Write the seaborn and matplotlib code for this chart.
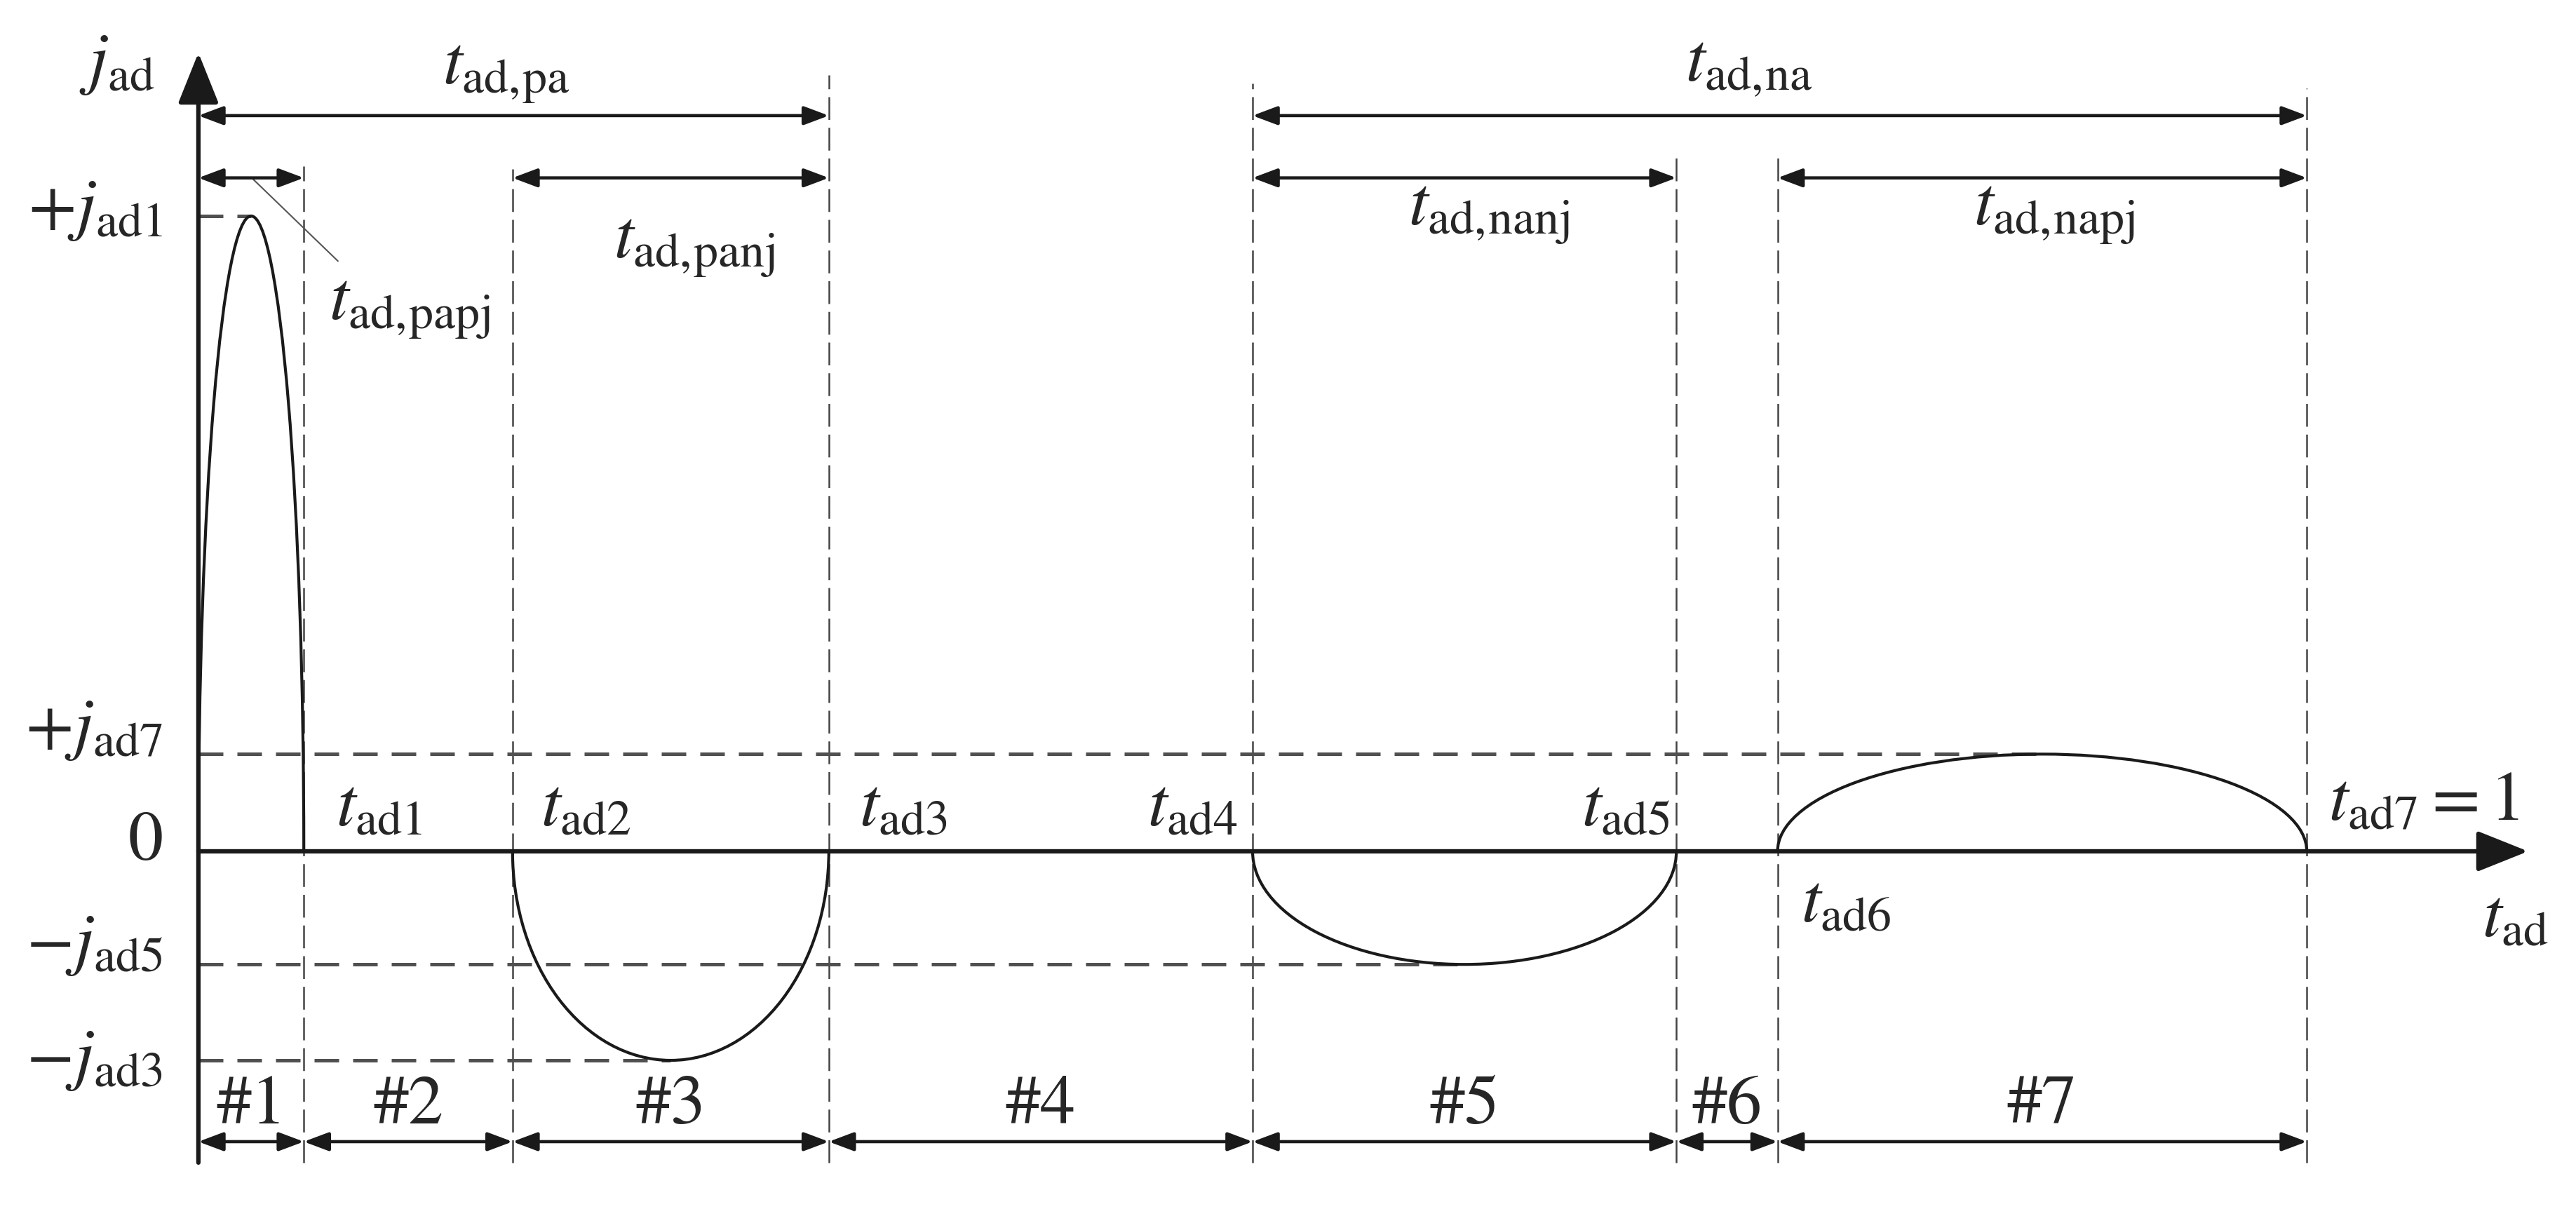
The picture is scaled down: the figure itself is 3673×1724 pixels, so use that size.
import matplotlib
matplotlib.use('Agg')
import matplotlib.pyplot as plt
from matplotlib.patches import Arc
import seaborn as sns
import pandas as pd

# phase boundaries t_ad0..t_ad7 (normalised, t_ad7 = 1)
t_bounds = [0.0, 0.050, 0.149, 0.299, 0.500, 0.701, 0.749, 1.0]
# peak value of j_ad in each phase (#1..#7), j_ad1 = 1
phase_peaks = [1.0, 0.0, -0.329, 0.0, -0.178, 0.0, 0.153]
phase_names = ['#1', '#2', '#3', '#4', '#5', '#6', '#7']
bound_labels = [r'$t_{\rm ad1}$', r'$t_{\rm ad2}$', r'$t_{\rm ad3}$', r'$t_{\rm ad4}$',
                r'$t_{\rm ad5}$', r'$t_{\rm ad6}$', r'$t_{\rm ad7}= 1$']
level_values = [1.0, 0.153, 0.0, -0.178, -0.329]
level_labels = [r'$+j_{\rm ad1}$', r'$+j_{\rm ad7}$', r'$0$', r'$-j_{\rm ad5}$', r'$-j_{\rm ad3}$']

sns.set_theme(style='white')
plt.rcParams['mathtext.fontset'] = 'stix'
plt.rcParams['font.family'] = ['STIXGeneral', 'DejaVu Serif']

fig = plt.figure(figsize=(3673 / 300, 1724 / 300), dpi=300)
ax = fig.add_axes([0, 0, 1, 1])
ax.set_xlim(-0.0941, 1.1277)
ax.set_ylim(-0.563, 1.340)
ax.axis('off')

FS = 24
ybot = -0.49

# axes with arrows
ax.annotate('', xy=(0, 1.257), xytext=(0, ybot),
            arrowprops=dict(arrowstyle='-|>,head_length=0.75,head_width=0.3', mutation_scale=20,
                            lw=1.5, color='k', shrinkA=0, shrinkB=0))
ax.annotate('', xy=(1.105, 0), xytext=(0, 0),
            arrowprops=dict(arrowstyle='-|>,head_length=0.75,head_width=0.3', mutation_scale=20,
                            lw=1.5, color='k', shrinkA=0, shrinkB=0))

# dashed vertical guides at the phase boundaries
v_tops = [1.078, 1.074, 1.222, 1.209, 1.095, 1.095, 1.201]
for t, top in zip(t_bounds[1:], v_tops):
    ax.plot([t, t], [ybot, top], color='#444444', lw=0.6, ls=(0, (13, 4.5)), zorder=1)

# dashed horizontal guides to the peaks
centers = [(t_bounds[i] + t_bounds[i + 1]) / 2 for i in range(7)]
guides = []
for k, (c, p) in enumerate(zip(centers, phase_peaks)):
    if p != 0:
        guides.append({'g': k, 't': 0.0, 'j': p})
        guides.append({'g': k, 't': c, 'j': p})
df_guides = pd.DataFrame(guides)
sns.lineplot(data=df_guides, x='t', y='j', units='g', estimator=None, ax=ax,
             color='#505050', lw=1.2, dashes=False, linestyle=(0, (7, 4)), zorder=1)

# current density curves (half ellipses between boundaries)
for i, p in enumerate(phase_peaks):
    if p == 0:
        continue
    w = t_bounds[i + 1] - t_bounds[i]
    th1, th2 = (0, 180) if p > 0 else (180, 360)
    ax.add_patch(Arc((centers[i], 0), w, 2 * abs(p), theta1=th1, theta2=th2,
                     color='#1a1a1a', lw=1.0, zorder=3))

arrow_kw = dict(arrowstyle='<|-|>,head_length=0.4,head_width=0.15', mutation_scale=18,
                lw=1.1, color='k', shrinkA=0, shrinkB=0)

# phase arrows at the bottom
for i, name in enumerate(phase_names):
    ax.annotate('', xy=(t_bounds[i], -0.457), xytext=(t_bounds[i + 1], -0.457), arrowprops=arrow_kw)
    ax.text(centers[i], -0.428, name, fontsize=FS, ha='center', va='baseline')

# interval arrows at the top
spans = [(t_bounds[0], t_bounds[3], 1.158), (t_bounds[4], t_bounds[7], 1.158),
         (t_bounds[0], t_bounds[1], 1.060), (t_bounds[2], t_bounds[3], 1.060),
         (t_bounds[4], t_bounds[5], 1.060), (t_bounds[6], t_bounds[7], 1.060)]
for a, b, y in spans:
    ax.annotate('', xy=(a, y), xytext=(b, y), arrowprops=arrow_kw)

ax.text(0.146, 1.209, r'$t_{\rm ad,\!pa}$', fontsize=FS, ha='center', va='baseline')
ax.text(0.7355, 1.213, r'$t_{\rm ad,\!na}$', fontsize=FS, ha='center', va='baseline')
ax.text(0.235, 0.935, r'$t_{\rm ad,\!panj}$', fontsize=FS, ha='center', va='baseline')
ax.text(0.612, 0.987, r'$t_{\rm ad,\!nanj}$', fontsize=FS, ha='center', va='baseline')
ax.text(0.880, 0.987, r'$t_{\rm ad,\!napj}$', fontsize=FS, ha='center', va='baseline')
ax.text(0.100, 0.838, r'$t_{\rm ad,\!papj}$', fontsize=FS, ha='center', va='baseline')
ax.plot([0.0253, 0.0662], [1.060, 0.929], color='#555555', lw=0.5)

# axis labels
ax.text(-0.0386, 1.212, r'$j_{\rm ad}$', fontsize=FS, ha='center', va='baseline')
ax.text(1.083, -0.134, r'$t_{\rm ad}$', fontsize=FS, ha='left', va='baseline')

# level labels on the left
level_base = [0.982, 0.164, -0.013, -0.174, -0.355]
for lab, yb in zip(level_labels, level_base):
    ax.text(-0.017, yb, lab, fontsize=FS, ha='right', va='baseline')

# boundary labels along the time axis
bx = [0.0652, 0.1623, 0.3134, 0.493, 0.698, 0.760, 1.0103]
by = [0.040, 0.040, 0.040, 0.040, 0.040, -0.111, 0.049]
bha = ['left', 'left', 'left', 'right', 'right', 'left', 'left']
for lab, x, y, h in zip(bound_labels, bx, by, bha):
    ax.text(x, y, lab, fontsize=FS, ha=h, va='baseline')

fig.savefig('out.png', dpi=300, facecolor='white')
